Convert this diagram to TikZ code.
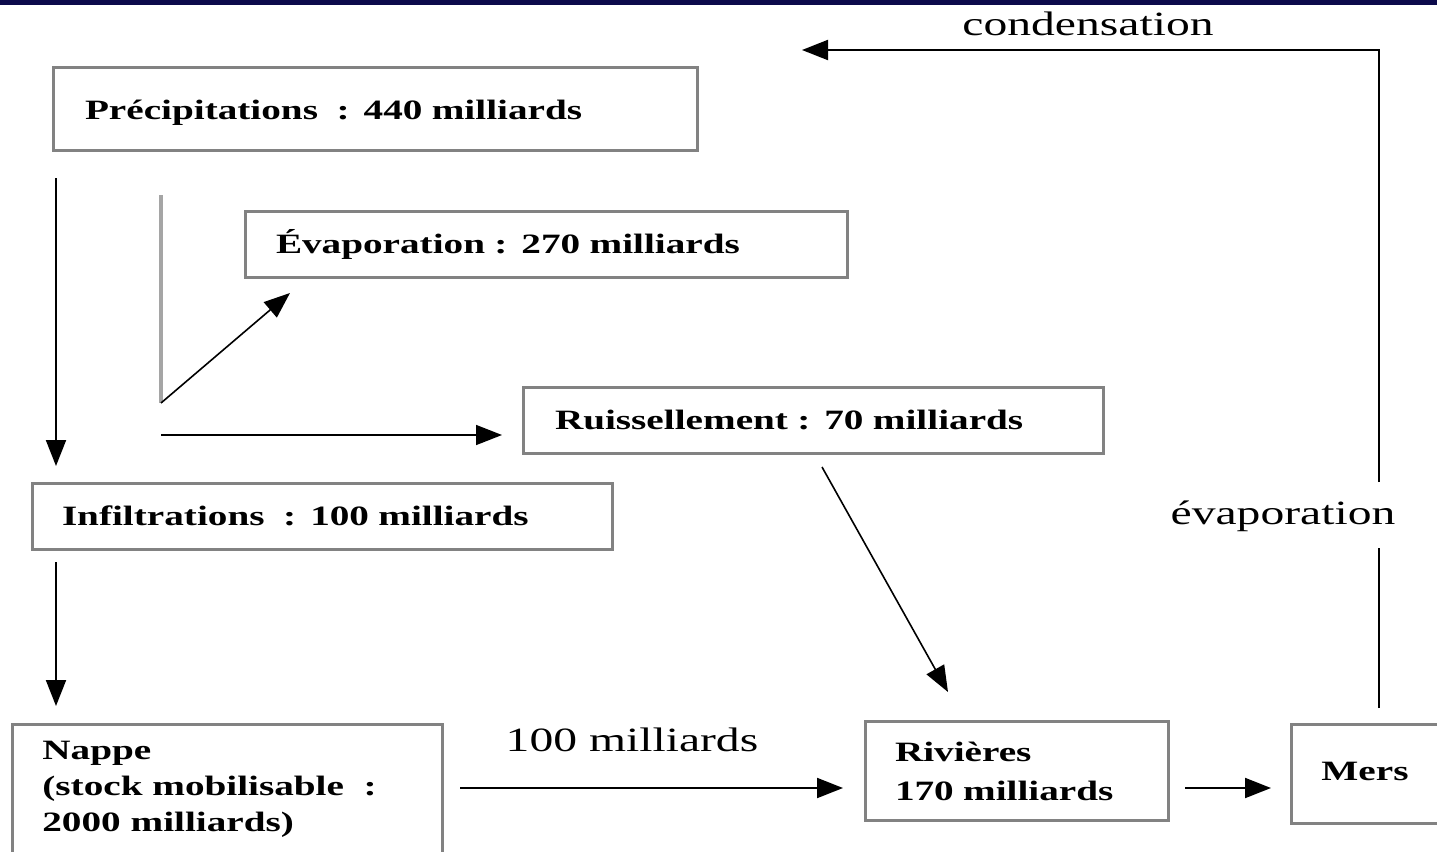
\documentclass[tikz,border=0pt]{standalone}
\usepackage{fontspec}
\setmainfont{Liberation Serif}[FakeStretch=1.4]
\usetikzlibrary{arrows.meta}
\definecolor{barnavy}{RGB}{12,10,75}
\definecolor{boxgray}{RGB}{130,130,130}
\definecolor{stemgray}{RGB}{165,165,165}
\tikzset{
  flowbox/.style={draw=boxgray, line width=1.5pt, inner ysep=0pt, align=left,
    font=\bfseries\fontsize{14}{18}\selectfont},
  plainbox/.style={draw=boxgray, line width=1.5pt, inner sep=0pt},
  boxtext/.style={inner sep=0pt, align=left, font=\bfseries\fontsize{14}{18}\selectfont},
  flow/.style={line width=1pt, -{Triangle[length=13pt,width=10pt]}},
  thinflow/.style={line width=0.8pt, -{Triangle[length=13pt,width=10pt]}},
  lbl/.style={inner sep=0pt, font=\fontsize{17}{20}\selectfont},
}
\begin{document}
\begin{tikzpicture}[x=0.5pt,y=-0.5pt]
\useasboundingbox (0,0) rectangle (1437,852);
\fill[barnavy] (0,0) rectangle (1437,5);

% boxes
\node[flowbox, minimum width=322pt, minimum height=41.5pt, inner xsep=16pt, text width=290pt,
  text depth=1pt]
  (precip) at (375,108.5) {\raisebox{-2pt}{Précipitations~~: 440 milliards}};
\node[flowbox, minimum width=301pt, minimum height=33pt, inner xsep=15.5pt, text width=270pt]
  (evap) at (546,244) {Évaporation : 270 milliards};
\node[flowbox, minimum width=290pt, minimum height=33pt, inner xsep=16pt, text width=258pt]
  (ruiss) at (813,420) {Ruissellement : 70 milliards};
\node[flowbox, minimum width=290pt, minimum height=33pt, inner xsep=15pt, text width=260pt]
  (infil) at (322,516) {Infiltrations~~: 100 milliards};
\node[plainbox, anchor=north west, minimum width=215pt, minimum height=75pt] (nappe) at (11,723) {};
\node[boxtext, anchor=north west] (nappetxt) at (42,741)
  {Nappe\\(stock mobilisable~~:\\2000 milliards)};
\node[flowbox, minimum width=151.5pt, minimum height=49.5pt, inner xsep=15pt, text width=121.5pt,
  font=\bfseries\fontsize{14}{19.5}\selectfont]
  (riv) at (1016.5,771) {Rivières\\170 milliards};
\node[plainbox, anchor=north west, minimum width=85pt, minimum height=49.5pt] (mers) at (1290,723) {};
\node[boxtext] (merstxt) at (1365,771) {Mers};

% labels
\node[lbl] (cond) at (1088,24) {condensation};
\node[lbl] (evlbl) at (1283,516) {évaporation};
\node[lbl] (cent) at (632,740) {100 milliards};

% free ends of the connectors
\coordinate (pdown0) at (56,178);
\coordinate (pdown1) at (56,466);
\coordinate (stemtop) at (161,195);
\coordinate (stembot) at (161,403);
\coordinate (evtip) at (290,293);
\coordinate (rustart) at (161,435);
\coordinate (rutip) at (502,435);
\coordinate (idown0) at (56,562);
\coordinate (idown1) at (56,706);
\coordinate (rv0) at (822,467);
\coordinate (rv1) at (948,692);
\coordinate (nr0) at (460,788);
\coordinate (nr1) at (843,788);
\coordinate (rm0) at (1185,788);
\coordinate (rm1) at (1271,788);
\coordinate (up0) at (1379,708);
\coordinate (up1) at (1379,548);
\coordinate (up2) at (1379,482);
\coordinate (condtip) at (802,50);

% connectors
\draw[flow] (pdown0) -- (pdown1);
\draw[stemgray, line width=2pt] (stemtop) -- (stembot);
\draw[thinflow] (stembot) -- (evtip);
\draw[thinflow] (rustart) -- (rutip);
\draw[flow] (idown0) -- (idown1);
\draw[thinflow] (rv0) -- (rv1);
\draw[flow] (nr0) -- (nr1);
\draw[flow] (rm0) -- (rm1);
\draw[line width=1pt] (up0) -- (up1);
\draw[flow] (up2) |- (condtip);
\end{tikzpicture}
\end{document}
